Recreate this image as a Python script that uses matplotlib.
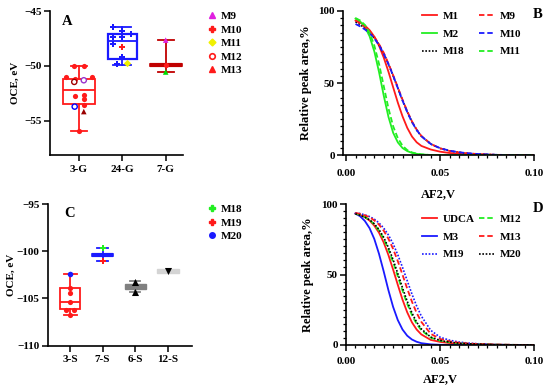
import matplotlib
matplotlib.use('Agg')
import matplotlib.pyplot as plt
from matplotlib.lines import Line2D
from matplotlib.ticker import MultipleLocator, FormatStrFormatter

plt.rcParams['font.family'] = ['Liberation Serif', 'DejaVu Serif']
plt.rcParams['font.weight'] = 'bold'
plt.rcParams['axes.labelweight'] = 'bold'

# ---- panel A: OCE boxes ----
a_groups = ['3-G', '24-G', '7-G']
a_q1 = [-53.45, -49.35, -50.0]
a_med = [-52.15, -47.75, -49.9]
a_q3 = [-51.15, -47.1, -49.8]
a_lo = [-55.9, -49.9, -50.55]
a_hi = [-50.0, -46.5, -47.65]

# points: group index, jitter, value
a_red_g = [0, 0, 0, 0, 0, 0, 0, 0, 0, 0, 2]
a_red_dx = [-0.12, 0.11, -0.29, 0.29, -0.1, -0.1, 0.11, 0.11, 0.11, 0.0, 0.0]
a_red_y = [-50.0, -50.0, -51.0, -51.0, -51.2, -52.7, -52.6, -53.0, -53.55, -55.9, -49.9]
a_blue_g = [1, 1, 1, 1, 1, 1, 1, 1]
a_blue_dx = [-0.21, 0.0, 0.21, -0.21, 0.0, -0.21, 0.0, -0.12]
a_blue_y = [-46.5, -46.8, -47.1, -47.4, -47.4, -48.0, -49.2, -49.85]
a_m10_g = [1]
a_m10_dx = [0.0]
a_m10_y = [-48.3]
a_m11_g = [1]
a_m11_dx = [0.1]
a_m11_y = [-49.7]
a_open_g = [0, 0, 0]
a_open_dx = [-0.11, 0.11, -0.1]
a_open_y = [-51.45, -51.3, -53.7]
a_open_c = ['#a00000', '#9933cc', '#0000ff']
a_tri_g = [0, 2, 2]
a_tri_dx = [0.11, 0.0, 0.0]
a_tri_y = [-54.15, -47.65, -50.55]
a_tri_c = ['#990000', '#e020e0', '#00dd00']

# ---- panel C: OCE boxes ----
c_groups = ['3-S', '7-S', '6-S', '12-S']
c_q1 = [-106.15, -100.5, -104.0, -102.35]
c_med = [-105.35, -100.4, -103.75, -102.1]
c_q3 = [-103.86, -100.3, -103.5, -101.9]
c_lo = [-106.75, -101.05, -104.35, -102.1]
c_hi = [-102.4, -99.7, -103.2, -102.1]

c_red_g = [0, 0, 0, 0, 0, 0]
c_red_dx = [0.0, 0.0, 0.0, -0.14, 0.13, 0.0]
c_red_y = [-103.9, -104.4, -105.4, -106.2, -106.2, -106.75]
c_blue_g = [0]
c_blue_dx = [0.0]
c_blue_y = [-102.45]
c_m18_g = [1]
c_m18_y = [-99.65]
c_m19_g = [1]
c_m19_y = [-101.07]
c_up_g = [2, 2]
c_up_y = [-103.25, -104.3]
c_down_g = [3]
c_down_y = [-102.06]

# ---- panels B, D: relative peak area curves ----
af2 = [0.005, 0.0075, 0.01, 0.0125, 0.015, 0.0175, 0.02, 0.0225, 0.025, 0.0275,
       0.03, 0.0325, 0.035, 0.0375, 0.04, 0.045, 0.05, 0.055, 0.06, 0.065,
       0.07, 0.08, 0.09, 0.1]
b_m1 = [93.4, 92.0, 89.9, 86.7, 82.2, 75.9, 67.7, 57.9, 47.1, 36.4, 26.9, 19.0,
        13.0, 9.0, 6.5, 4.0, 2.5, 1.6, 1.05, 0.7, 0.45, 0.2, 0.08, 0.03]
b_m2 = [94.8, 92.7, 89.0, 82.4, 71.9, 57.6, 41.3, 26.6, 15.6, 8.9, 5.0, 2.9,
        1.7, 1.0, 0.6, 0.2, 0.07, 0.02, 0.01, 0, 0, 0, 0, 0]
b_m18 = [92.5, 90.5, 88.0, 85.0, 81.3, 76.5, 70.5, 63.2, 55.0, 46.5, 38.0, 30.2,
         23.2, 17.5, 13.2, 7.8, 4.8, 3.1, 2.0, 1.3, 0.85, 0.33, 0.11, 0.04]
b_m9 = [93.5, 91.5, 89.0, 86.0, 82.0, 77.0, 71.0, 63.5, 55.5, 47.0, 38.5, 30.5,
        23.5, 17.8, 13.4, 7.9, 4.8, 3.0, 2.0, 1.3, 0.85, 0.32, 0.11, 0.04]
b_m10 = [91.0, 89.3, 87.2, 84.6, 81.0, 76.3, 70.3, 63.2, 55.1, 46.5, 37.8, 29.9,
         23.0, 17.5, 13.2, 7.8, 4.9, 3.2, 2.1, 1.4, 0.9, 0.35, 0.12, 0.04]
b_m11 = [95.1, 93.4, 90.3, 84.9, 76.0, 63.3, 47.9, 32.5, 20.1, 11.8, 6.6, 3.6,
         2.0, 1.1, 0.6, 0.2, 0.07, 0.02, 0.01, 0, 0, 0, 0, 0]

d_udca = [93.2, 92.2, 90.6, 88.3, 84.7, 79.7, 72.8, 63.9, 53.6, 42.7, 32.2, 23.2,
          16.1, 11.0, 7.5, 3.6, 2.2, 1.4, 0.9, 0.6, 0.4, 0.15, 0.05, 0.02]
d_m3 = [93.2, 91.3, 88.0, 82.9, 75.3, 64.8, 52.3, 39.0, 27.1, 17.7, 11.0, 6.6,
        3.9, 2.3, 1.3, 0.45, 0.15, 0.05, 0.02, 0.01, 0, 0, 0, 0]
d_m19 = [93.8, 93.2, 92.3, 91.1, 89.3, 86.6, 83.0, 78.1, 71.8, 64.0, 55.1, 45.6,
         36.2, 27.7, 20.5, 10.4, 5.5, 3.4, 2.1, 1.35, 0.9, 0.36, 0.13, 0.05]
d_m12 = [93.2, 92.2, 90.8, 88.7, 85.6, 81.2, 75.4, 67.8, 58.8, 48.7, 38.6, 29.2,
         21.3, 15.0, 10.5, 5.2, 3.0, 1.9, 1.2, 0.8, 0.55, 0.22, 0.08, 0.03]
d_m13 = [93.7, 93.0, 92.0, 90.6, 88.4, 85.4, 81.1, 75.4, 68.2, 59.5, 49.9, 40.0,
         30.8, 22.8, 16.4, 7.9, 4.3, 2.6, 1.6, 1.05, 0.7, 0.28, 0.1, 0.04]
d_m20 = [93.0, 92.0, 90.7, 88.8, 86.0, 81.9, 76.4, 69.2, 60.5, 50.7, 40.6, 31.0,
         22.8, 16.2, 11.4, 5.6, 3.2, 2.0, 1.3, 0.85, 0.6, 0.24, 0.09, 0.03]

RED = '#ff1a1a'
BLUE = '#1a1aff'
GREEN = '#22ee22'
FS = 8


def style_axes(ax):
    for s in ['top', 'right']:
        ax.spines[s].set_visible(False)
    for s in ['left', 'bottom']:
        ax.spines[s].set_linewidth(1.2)
    ax.tick_params(which='major', direction='out', length=4, width=1.1, labelsize=FS, pad=2)
    ax.tick_params(which='minor', direction='out', length=2.2, width=0.9)


def draw_boxes(ax, q1, med, q3, lo, hi, colors, faces, widths, capw, medlw, lw):
    for i in range(len(q1)):
        st = [dict(q1=q1[i], med=med[i], q3=q3[i], whislo=lo[i], whishi=hi[i], fliers=[])]
        c = colors[i]
        ax.bxp(st, positions=[i], widths=widths[i], capwidths=capw[i], showfliers=False,
               patch_artist=True, manage_ticks=False,
               boxprops=dict(edgecolor=c, facecolor=faces[i], lw=lw[i]),
               whiskerprops=dict(color=c, lw=1.3), capprops=dict(color=c, lw=1.3),
               medianprops=dict(color=c, lw=medlw[i]))


def jit(g, dx):
    return [a + b for a, b in zip(g, dx)]


fig = plt.figure(figsize=(5.5, 3.89), dpi=100)

# ---------- A ----------
axA = fig.add_axes([50 / 550, 1 - 155 / 389, 133 / 550, 144 / 389])
draw_boxes(axA, a_q1, a_med, a_q3, a_lo, a_hi,
           [RED, BLUE, '#c00000'], ['none', 'none', '#c00000'],
           [0.74, 0.67, 0.74], [0.37, 0.42, 0.37], [1.3, 1.3, 3.0], [1.3, 1.6, 1.2])
axA.scatter(jit(a_red_g, a_red_dx), a_red_y, s=14, color=RED, zorder=3, lw=0)
axA.scatter(jit(a_blue_g, a_blue_dx), a_blue_y, s=18, marker='P', color=BLUE, zorder=3, lw=0)
axA.scatter(jit(a_m10_g, a_m10_dx), a_m10_y, s=18, marker='P', color=RED, zorder=3, lw=0)
axA.scatter(jit(a_m11_g, a_m11_dx), a_m11_y, s=14, marker='D', color='#f0f000', zorder=3, lw=0)
axA.scatter(jit(a_open_g, a_open_dx), a_open_y, s=14, facecolor='white', edgecolor=a_open_c, lw=1.0, zorder=3)
axA.scatter(jit(a_tri_g, a_tri_dx), a_tri_y, s=16, marker='^', color=a_tri_c, zorder=3, lw=0)
axA.set_xlim(-0.67, 2.4)
axA.set_ylim(-58.1, -45)
axA.set_xticks(range(len(a_groups)))
axA.set_xticklabels(a_groups)
axA.set_yticks([-45, -50, -55])
axA.set_ylabel('OCE, eV', fontsize=FS, labelpad=3)
style_axes(axA)
axA.tick_params(axis='x', pad=3)
axA.text(0.09, 0.93, 'A', transform=axA.transAxes, fontsize=10.5, fontweight='bold', va='center')
leg_a = [Line2D([], [], ls='none', marker='^', color='#e020e0', ms=4, label='M9'),
         Line2D([], [], ls='none', marker='P', color=RED, ms=4.5, label='M10'),
         Line2D([], [], ls='none', marker='D', color='#f0f000', ms=3.5, label='M11'),
         Line2D([], [], ls='none', marker='o', mfc='white', mec=RED, mew=1.2, ms=4, label='M12'),
         Line2D([], [], ls='none', marker='^', color=RED, ms=4, label='M13')]
axA.legend(handles=leg_a, loc='upper left', bbox_to_anchor=(201 / 550, 1 - 6 / 389),
           bbox_transform=fig.transFigure, frameon=False, fontsize=FS,
           handlelength=0.9, handletextpad=0.4, labelspacing=0.33, borderpad=0)

# ---------- C ----------
axC = fig.add_axes([48 / 550, 1 - 345.7 / 389, 144 / 550, 141.7 / 389])
draw_boxes(axC, c_q1, c_med, c_q3, c_lo, c_hi,
           [RED, BLUE, '#808080', '#d4d4d4'], ['none', 'none', '#808080', '#d4d4d4'],
           [0.6, 0.65, 0.64, 0.68], [0.4, 0.36, 0.3, 0.3], [1.3, 3.0, 1.2, 1.2], [1.3, 1.2, 1.0, 1.0])
axC.scatter(jit(c_red_g, c_red_dx), c_red_y, s=14, color=RED, zorder=3, lw=0)
axC.scatter(jit(c_blue_g, c_blue_dx), c_blue_y, s=16, color=BLUE, zorder=3, lw=0)
axC.scatter(c_m18_g, c_m18_y, s=18, marker='P', color=GREEN, zorder=3, lw=0)
axC.scatter(c_m19_g, c_m19_y, s=18, marker='P', color=RED, zorder=3, lw=0)
axC.scatter(c_up_g, c_up_y, s=26, marker='^', color='black', zorder=3, lw=0)
axC.scatter(c_down_g, c_down_y, s=26, marker='v', color='black', zorder=3, lw=0)
axC.set_xlim(-0.68, 3.75)
axC.set_ylim(-110, -95)
axC.set_xticks(range(len(c_groups)))
axC.set_xticklabels(c_groups)
axC.set_yticks([-95, -100, -105, -110])
axC.set_ylabel('OCE, eV', fontsize=FS, labelpad=1)
style_axes(axC)
axC.tick_params(axis='x', pad=3)
axC.text(0.11, 0.93, 'C', transform=axC.transAxes, fontsize=10.5, fontweight='bold', va='center')
leg_c = [Line2D([], [], ls='none', marker='P', color=GREEN, ms=4.5, label='M18'),
         Line2D([], [], ls='none', marker='P', color=RED, ms=4.5, label='M19'),
         Line2D([], [], ls='none', marker='o', color=BLUE, ms=4, label='M20')]
axC.legend(handles=leg_c, loc='upper left', bbox_to_anchor=(201 / 550, 1 - 199 / 389),
           bbox_transform=fig.transFigure, frameon=False, fontsize=FS,
           handlelength=0.9, handletextpad=0.4, labelspacing=0.33, borderpad=0)


def curve_axes(ax, xlo, tpad, lpad):
    ax.set_xlim(xlo, 0.1)
    ax.set_ylim(0, 100)
    ax.set_xticks([0, 0.05, 0.1])
    ax.xaxis.set_major_formatter(FormatStrFormatter('%.2f'))
    ax.xaxis.set_minor_locator(MultipleLocator(0.005))
    ax.set_yticks([0, 50, 100])
    ax.yaxis.set_minor_locator(MultipleLocator(5))
    style_axes(ax)
    ax.tick_params(axis='x', pad=tpad)
    ax.set_ylabel('Relative peak area,%', fontsize=9, labelpad=5)
    ax.set_xlabel('AF2,V', fontsize=9, labelpad=lpad)


DASH = (0, (3.0, 1.6))
DOT = (0, (1.0, 1.0))

# ---------- B ----------
axB = fig.add_axes([343.3 / 550, 1 - 155.3 / 389, 191 / 550, 144.3 / 389])
hB = []
hB += axB.plot(af2, b_m1, color=RED, lw=1.3, label='M1')
hB += axB.plot(af2, b_m2, color=GREEN, lw=1.3, label='M2')
hB += axB.plot(af2, b_m18, color='black', lw=1.2, ls=DOT, label='M18')
hB += axB.plot(af2, b_m9, color=RED, lw=1.3, ls=DASH, label='M9')
hB += axB.plot(af2, b_m10, color=BLUE, lw=1.3, ls=DASH, label='M10')
hB += axB.plot(af2, b_m11, color=GREEN, lw=1.3, ls=DASH, label='M11')
curve_axes(axB, -0.0015, 6, 7)
axB.legend(handles=hB, ncol=2, loc='upper left', bbox_to_anchor=(416 / 550, 1 - 6 / 389),
           bbox_transform=fig.transFigure, frameon=False, fontsize=FS,
           handlelength=1.4, handletextpad=0.5, labelspacing=0.7, columnspacing=1.3, borderpad=0)
fig.text(538 / 550, 1 - 15 / 389, 'B', fontsize=10.5, fontweight='bold', va='center', ha='center')

# ---------- D ----------
axD = fig.add_axes([346 / 550, 1 - 345 / 389, 188.3 / 550, 141 / 389])
hD = []
hD += axD.plot(af2, d_udca, color=RED, lw=1.3, label='UDCA')
hD += axD.plot(af2, d_m3, color=BLUE, lw=1.3, label='M3')
hD += axD.plot(af2, d_m19, color=BLUE, lw=1.2, ls=DOT, label='M19')
hD += axD.plot(af2, d_m12, color=GREEN, lw=1.3, ls=DASH, label='M12')
hD += axD.plot(af2, d_m13, color=RED, lw=1.3, ls=DASH, label='M13')
hD += axD.plot(af2, d_m20, color='black', lw=1.2, ls=DOT, label='M20')
curve_axes(axD, 0.0, 5, 5)
axD.legend(handles=hD, ncol=2, loc='upper left', bbox_to_anchor=(416 / 550, 1 - 209 / 389),
           bbox_transform=fig.transFigure, frameon=False, fontsize=FS,
           handlelength=1.4, handletextpad=0.5, labelspacing=0.7, columnspacing=0.4, borderpad=0)
fig.text(538 / 550, 1 - 209 / 389, 'D', fontsize=10.5, fontweight='bold', va='center', ha='center')

fig.savefig('out.png', dpi=100)
